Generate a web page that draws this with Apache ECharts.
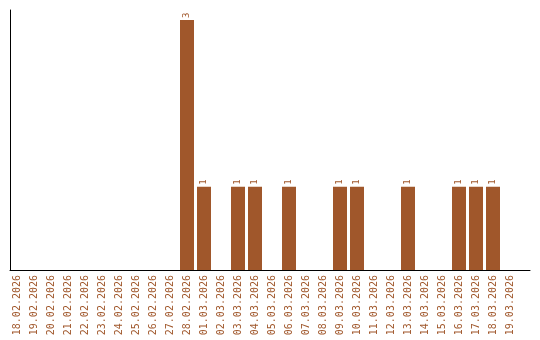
<!DOCTYPE html>
<html><head><meta charset="utf-8">
<script src="https://cdn.jsdelivr.net/npm/echarts@6/dist/echarts.min.js"></script>
<style>html,body{margin:0;padding:0;background:#fff}#c{width:540px;height:340px}</style>
</head><body><div id="c"></div>
<script>
const categories = ['18.02.2026','19.02.2026','20.02.2026','21.02.2026','22.02.2026','23.02.2026','24.02.2026','25.02.2026','26.02.2026','27.02.2026','28.02.2026','01.03.2026','02.03.2026','03.03.2026','04.03.2026','05.03.2026','06.03.2026','07.03.2026','08.03.2026','09.03.2026','10.03.2026','11.03.2026','12.03.2026','13.03.2026','14.03.2026','15.03.2026','16.03.2026','17.03.2026','18.03.2026','19.03.2026'];
const values = [0,0,0,0,0,0,0,0,0,0,3,1,0,1,1,0,1,0,0,1,1,0,0,1,0,0,1,1,1,0];
const color = '#a0572b';
const chart = echarts.init(document.getElementById('c'), null, {renderer:'canvas'});
chart.setOption({
  animation:false,
  grid:[
    {left:8.5, right:21.5, top:20, bottom:70},
    {left:10, right:10, top:10, bottom:70}
  ],
  xAxis:[
    {gridIndex:0, type:'category', data:categories,
     axisLine:{show:false}, axisTick:{show:false},
     axisLabel:{rotate:90, interval:0, margin:5, color:color, fontFamily:'DejaVu Sans Mono', fontSize:10}},
    {gridIndex:1, type:'value', min:0, max:1, axisLine:{show:true, lineStyle:{color:'#000', width:1}},
     axisTick:{show:false}, axisLabel:{show:false}, splitLine:{show:false}}
  ],
  yAxis:[
    {gridIndex:0, type:'value', min:0, max:3, show:false, splitLine:{show:false}},
    {gridIndex:1, type:'value', min:0, max:1, axisLine:{show:true, lineStyle:{color:'#000', width:1}},
     axisTick:{show:false}, axisLabel:{show:false}, splitLine:{show:false}}
  ],
  series:[{
    type:'bar', xAxisIndex:0, yAxisIndex:0, data:values.map(v=>v===0?null:v),
    barWidth:14,
    itemStyle:{color:color},
    label:{show:true, position:'top', rotate:90, distance:2, align:'left', verticalAlign:'middle',
      color:color, fontFamily:'DejaVu Sans Mono', fontSize:9}
  }]
});
</script></body></html>
